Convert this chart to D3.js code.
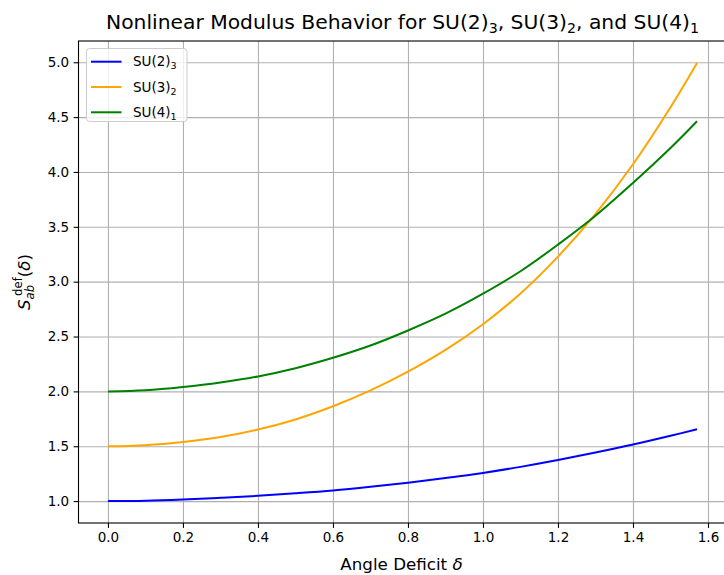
<!DOCTYPE html>
<html lang="en">
<head>
<meta charset="utf-8">
<title>Nonlinear Modulus Behavior</title>
<script src="https://cdn.jsdelivr.net/npm/d3@7"></script>
<style>
  body { margin: 0; background: #ffffff; font-family: "DejaVu Sans", sans-serif; }
  .tick text { font-family: "DejaVu Sans", sans-serif; font-size: 13.5px; fill: #000; }
  .grid line { stroke: #b0b0b0; stroke-width: 1.1px; }
  .grid path { display: none; }
</style>
</head>
<body>
<div id="chart"></div>
<script>

// angle deficit samples (last one is pi/2)
var delta = [0.0, 0.1, 0.2, 0.3, 0.4, 0.5, 0.6, 0.7, 0.8, 0.9, 1.0, 1.1, 1.2, 1.3, 1.4, 1.5, 1.5708];

// values
var su2_3 = [1.000, 1.004, 1.015, 1.030, 1.048, 1.071, 1.097, 1.130, 1.167, 1.210, 1.257, 1.312, 1.374, 1.442, 1.515, 1.595, 1.655];
var su3_2 = [1.500, 1.510, 1.539, 1.584, 1.652, 1.744, 1.864, 2.009, 2.180, 2.378, 2.612, 2.892, 3.228, 3.618, 4.070, 4.590, 4.994];
var su4_1 = [2.000, 2.010, 2.040, 2.081, 2.136, 2.211, 2.306, 2.418, 2.555, 2.708, 2.890, 3.095, 3.338, 3.601, 3.900, 4.218, 4.462];

var xTicks = [0.0, 0.2, 0.4, 0.6, 0.8, 1.0, 1.2, 1.4, 1.6];
var yTicks = [1.0, 1.5, 2.0, 2.5, 3.0, 3.5, 4.0, 4.5, 5.0];

var series = [
  {name: "SU(2)", sub: "3", color: "blue", values: su2_3},
  {name: "SU(3)", sub: "2", color: "orange", values: su3_2},
  {name: "SU(4)", sub: "1", color: "green", values: su4_1}
];

var width = 724, height = 575;
var box = {left: 78.5, right: 726.5, top: 41, bottom: 523};

// 5% margins like matplotlib
var xMin = d3.min(delta), xMax = d3.max(delta);
var yMin = d3.min(series, function(s) { return d3.min(s.values); });
var yMax = d3.max(series, function(s) { return d3.max(s.values); });
var xPad = (xMax - xMin) * 0.05, yPad = (yMax - yMin) * 0.05;

var x = d3.scaleLinear().domain([xMin - xPad, xMax + xPad]).range([box.left, box.right]);
var y = d3.scaleLinear().domain([yMin - yPad, yMax + yPad]).range([box.bottom, box.top]);

var svg = d3.select("#chart").append("svg")
  .attr("width", width)
  .attr("height", height);

// grid lines
svg.append("g")
  .attr("class", "grid")
  .attr("transform", "translate(0," + box.bottom + ")")
  .call(d3.axisBottom(x).tickValues(xTicks).tickSize(-(box.bottom - box.top)).tickFormat(""));
svg.append("g")
  .attr("class", "grid")
  .attr("transform", "translate(" + box.left + ",0)")
  .call(d3.axisLeft(y).tickValues(yTicks).tickSize(-(box.right - box.left)).tickFormat(""));

// curves
var line = d3.line()
  .x(function(d, i) { return x(delta[i]); })
  .y(function(d) { return y(d); })
  .curve(d3.curveCatmullRom.alpha(0.5));

svg.selectAll(".curve")
  .data(series)
  .enter()
  .append("path")
  .attr("class", "curve")
  .attr("d", function(s) { return line(s.values); })
  .attr("fill", "none")
  .attr("stroke", function(s) { return s.color; })
  .attr("stroke-width", 2);

// axes
var xAxis = svg.append("g")
  .attr("transform", "translate(0," + box.bottom + ")")
  .call(d3.axisBottom(x).tickValues(xTicks).tickSize(4.9).tickPadding(4.5).tickFormat(d3.format(".1f")));
var yAxis = svg.append("g")
  .attr("transform", "translate(" + box.left + ",0)")
  .call(d3.axisLeft(y).tickValues(yTicks).tickSize(4.9).tickPadding(4.5).tickFormat(d3.format(".1f")));
xAxis.select(".domain").remove();
yAxis.select(".domain").remove();
svg.selectAll(".tick line").attr("stroke", "#000").attr("stroke-width", 1.1);

// frame
svg.append("rect")
  .attr("x", box.left)
  .attr("y", box.top)
  .attr("width", box.right - box.left)
  .attr("height", box.bottom - box.top)
  .attr("fill", "none")
  .attr("stroke", "#000")
  .attr("stroke-width", 1.1);

// title
var title = svg.append("text")
  .attr("x", (box.left + box.right) / 2)
  .attr("y", 29)
  .attr("text-anchor", "middle")
  .style("font-size", "20.3px");
series.forEach(function(s, i) {
  var pre = i === 0 ? "Nonlinear Modulus Behavior for " : (i === 2 ? ", and " : ", ");
  title.append("tspan").attr("dy", i === 0 ? 0 : -4).text(pre + s.name);
  title.append("tspan").attr("dy", 4).style("font-size", "14.2px").text(s.sub);
});

// x label
var xl = svg.append("text")
  .attr("x", (box.left + box.right) / 2 - 1)
  .attr("y", 570)
  .attr("text-anchor", "middle")
  .style("font-size", "16.7px");
xl.append("tspan").text("Angle Deficit ");
xl.append("tspan").style("font-style", "italic").text("δ");

// y label
var yl = svg.append("text")
  .attr("transform", "translate(30," + ((box.top + box.bottom) / 2) + ") rotate(-90)")
  .attr("text-anchor", "middle")
  .style("font-size", "16.7px");
yl.append("tspan").style("font-style", "italic").text("S");
yl.append("tspan").attr("dy", 4).style("font-size", "11.7px").style("font-style", "italic").text("ab");
yl.append("tspan").attr("dx", -11).attr("dy", -12).style("font-size", "11.7px").text("def");
yl.append("tspan").attr("dy", 8).text("(");
yl.append("tspan").style("font-style", "italic").text("δ");
yl.append("tspan").text(")");

// legend
var legend = svg.append("g").attr("transform", "translate(86.5,48.5)");
legend.append("rect")
  .attr("width", 100.5)
  .attr("height", 73)
  .attr("rx", 3)
  .attr("fill", "#ffffff")
  .attr("fill-opacity", 0.8)
  .attr("stroke", "#cccccc")
  .attr("stroke-width", 1);

var items = legend.selectAll(".item")
  .data(series)
  .enter()
  .append("g")
  .attr("transform", function(d, i) { return "translate(0," + (13.2 + i * 25.3) + ")"; });
items.append("line")
  .attr("x1", 4.5).attr("x2", 35)
  .attr("stroke", function(d) { return d.color; })
  .attr("stroke-width", 2);
var lt = items.append("text")
  .attr("x", 46.5)
  .attr("y", 4.5)
  .style("font-size", "13.5px");
lt.append("tspan").text(function(d) { return d.name; });
lt.append("tspan").attr("dy", 3).style("font-size", "9.5px").text(function(d) { return d.sub; });

</script>
</body>
</html>
